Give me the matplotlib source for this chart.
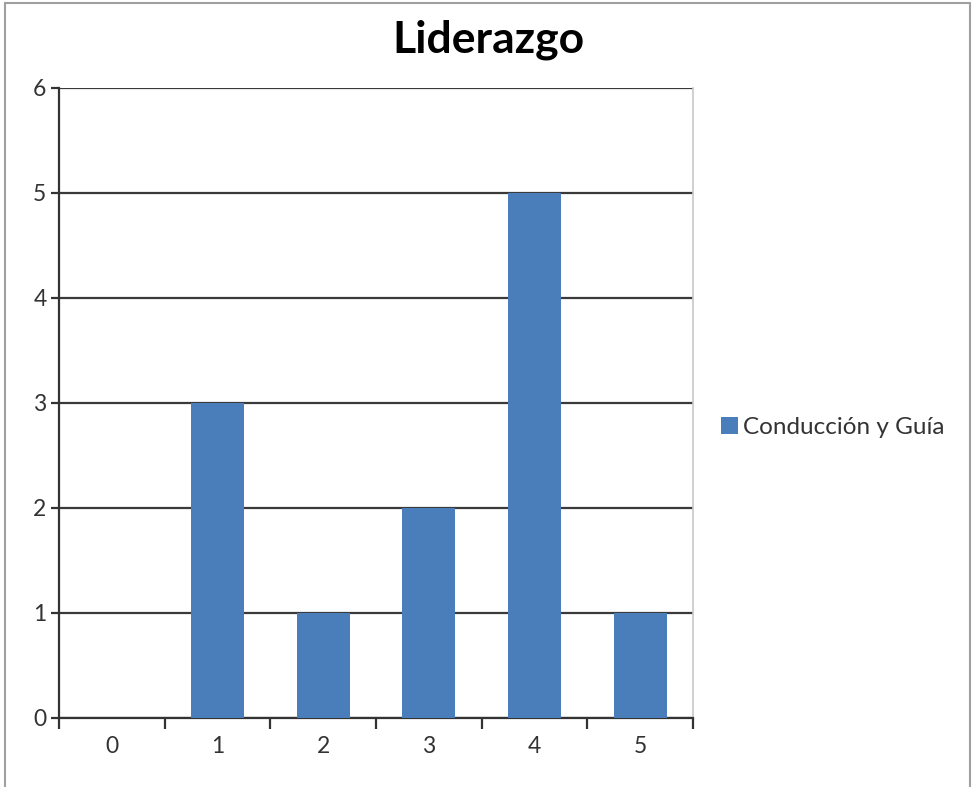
#!/usr/bin/env python3
"""Liderazgo bar chart (Excel style)."""

import matplotlib
matplotlib.use('Agg')
import matplotlib.pyplot as plt
from matplotlib.patches import Rectangle

categories = ['0', '1', '2', '3', '4', '5']
values = [0, 3, 1, 2, 5, 1]
series_name = 'Conducción y Guía'
title = 'Liderazgo'

plt.rcParams['font.family'] = ['Lato', 'DejaVu Sans']

fig = plt.figure(figsize=(9.72, 7.87), dpi=100)
ax = fig.add_axes([0.0607, 0.0877, 0.6523, 0.8005])

x = list(range(len(categories)))
ax.bar(x, values, width=0.5, color='#4A7EBB', label=series_name, zorder=3)

ax.set_xlim(-0.5, len(categories) - 0.5)
ax.set_ylim(0, 6)
ax.set_yticks(range(0, 7))
ax.yaxis.grid(True, color='#3a3a3a', linewidth=1.6, zorder=0)

ax.set_xticks(x)
ax.set_xticklabels(categories)
ax.set_xticks([i - 0.5 for i in range(len(categories) + 1)], minor=True)
ax.tick_params(axis='x', which='major', length=0, pad=13, labelsize=16.5, colors='#333333')
ax.tick_params(axis='x', which='minor', length=8, width=1.6, direction='out', color='#333333')
ax.tick_params(axis='y', length=6, width=1.6, direction='out', labelsize=16.5, pad=3, color='#333333',
               labelcolor='#333333')

ax.spines['top'].set_visible(False)
ax.spines['right'].set_color('#c8c8c8')
ax.spines['right'].set_linewidth(1.2)
ax.spines['left'].set_color('#333333')
ax.spines['left'].set_linewidth(1.6)
ax.spines['bottom'].set_color('#333333')
ax.spines['bottom'].set_linewidth(1.6)

fig.text(0.502, 0.950, title, ha='center', va='center', fontsize=32, fontweight='bold')

fig.legend(loc='center left', bbox_to_anchor=(0.732, 0.457), frameon=False,
           fontsize=17.5, handlelength=0.7, handleheight=0.7, handletextpad=0.2,
           borderaxespad=0, labelcolor='#333333')

# outer chart frame
fig.patches.append(Rectangle((0.005, -0.01), 0.993, 1.006, transform=fig.transFigure,
                             fill=False, edgecolor='#a0a0a0', linewidth=1.5))

fig.savefig('out.png', dpi=100)
